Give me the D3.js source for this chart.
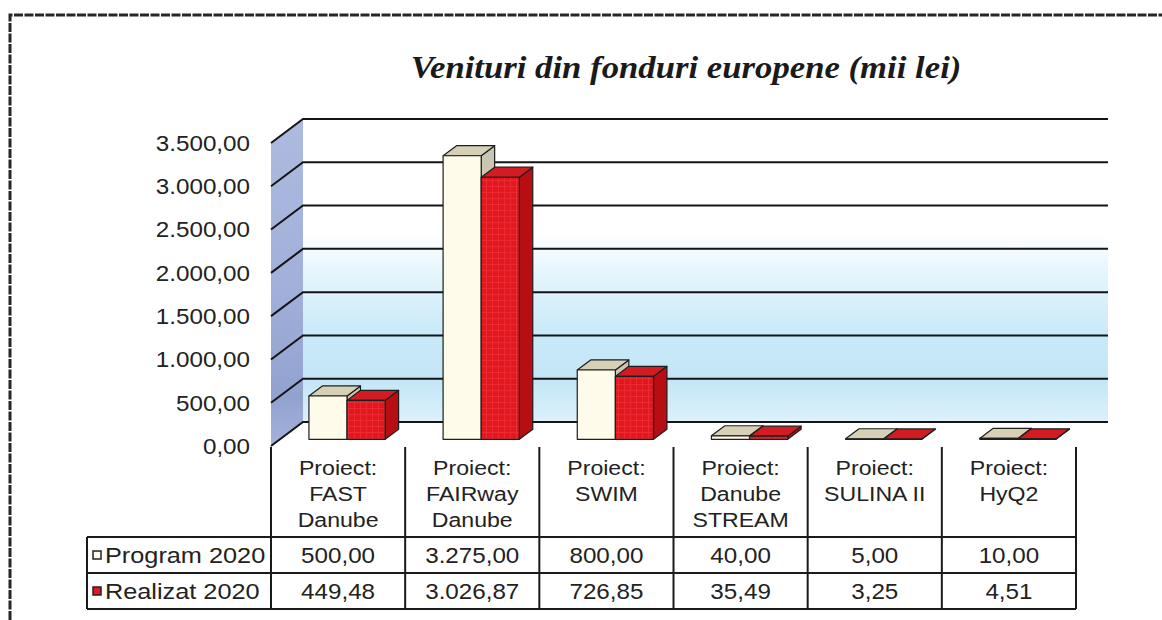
<!DOCTYPE html>
<html>
<head>
<meta charset="utf-8">
<script src="https://cdn.jsdelivr.net/npm/d3@7.9.0/dist/d3.min.js"></script>
<style>
  html, body { margin: 0; padding: 0; background: #fff; }
  svg { display: block; }
  .lbl { font-family: "Liberation Sans", Arial, sans-serif; fill: #222; }
</style>
</head>
<body>
<svg id="chart" width="1162" height="620"></svg>
<script>
// ---- data ----
const title = 'Venituri din fonduri europene (mii lei)';
const categories = [
  ['Proiect:', 'FAST', 'Danube'],
  ['Proiect:', 'FAIRway', 'Danube'],
  ['Proiect:', 'SWIM'],
  ['Proiect:', 'Danube', 'STREAM'],
  ['Proiect:', 'SULINA II'],
  ['Proiect:', 'HyQ2']
];
const seriesNames = ['Program 2020', 'Realizat 2020'];
const program2020 = [500.00, 3275.00, 800.00, 40.00, 5.00, 10.00];
const realizat2020 = [449.48, 3026.87, 726.85, 35.49, 3.25, 4.51];
const yTicks = [0, 500, 1000, 1500, 2000, 2500, 3000, 3500];

const seriesValues = [program2020, realizat2020];
const colors = [
  { front: '#fffbea', top: '#d6d1b6', side: '#c9c6b2' },
  { front: '#e6161e', top: '#d21c22', side: '#b70e14' }
];

// ---- layout ----
const svg = d3.select('#chart');
const W = 1162, H = 620;
const DX = 32, DY = 24;           // depth of the 3d box
const left = 271, right = 1076;
const SX = 1.1;                   // the scan is a bit wide, so text is stretched
const ro = d3.formatLocale({ decimal: ',', thousands: '.', grouping: [3], currency: ['', ''] });
const fmt = ro.format(',.2f');

const idx = categories.map((d, i) => i);
const x = d3.scaleBand().domain(idx).range([left, right]);
const xs = d3.scaleBand().domain([0, 1]).range([0, x.bandwidth()]).paddingOuter(0.76);
const y = d3.scaleLinear().domain([0, 3500]).range([446, 143]);

const P = (px, v, z) => [px + z * DX, y(v) - z * DY];
const poly = pts => 'M' + pts.map(p => p.join(',')).join('L') + 'Z';
const at = (px, py, sx = SX) => `translate(${px},${py}) scale(${sx},1)`;

// outer frame
svg.append('path')
  .attr('d', `M10,${H} L10,15 L${W},15`)
  .attr('fill', 'none').attr('stroke', '#262626').attr('stroke-width', 3)
  .attr('stroke-dasharray', '9,1.5');

// title
svg.append('text')
  .attr('transform', at(686, 78, 1.12))
  .attr('text-anchor', 'middle')
  .style('font-family', '"Liberation Serif", "Times New Roman", serif')
  .style('font-style', 'italic').style('font-weight', 'bold')
  .style('font-size', '31px').attr('fill', '#1a1a1a')
  .text(title);

// gradients
const defs = svg.append('defs');
const gBack = defs.append('linearGradient').attr('id', 'gBack')
  .attr('x1', 0).attr('y1', 0).attr('x2', 0).attr('y2', 1);
[[0, '#ffffff'], [0.38, '#ffffff'], [0.5, '#e6f6fd'], [0.72, '#c8e9f8'], [0.86, '#c3e6f6'], [1, '#dcf1fb']]
  .forEach(([o, c]) => gBack.append('stop').attr('offset', o).attr('stop-color', c));
const gSide = defs.append('linearGradient').attr('id', 'gSide')
  .attr('x1', 0).attr('y1', 0).attr('x2', 0).attr('y2', 1);
[[0, '#aebade'], [0.5, '#a2b0da'], [0.85, '#92a2cf'], [1, '#a5b3da']]
  .forEach(([o, c]) => gSide.append('stop').attr('offset', o).attr('stop-color', c));
const pat = defs.append('pattern').attr('id', 'redTex')
  .attr('patternUnits', 'userSpaceOnUse').attr('width', 6).attr('height', 6);
pat.append('rect').attr('width', 6).attr('height', 6).attr('fill', colors[1].front);
pat.append('path').attr('d', 'M0,0.5H6M0.5,0V6').attr('stroke', '#f25a5f').attr('stroke-width', 0.8).attr('opacity', 0.35);

// walls
const vMax = y.domain()[1];
svg.append('path')
  .attr('d', poly([P(left, vMax, 1), P(right, vMax, 1), P(right, 0, 1), P(left, 0, 1)]))
  .attr('fill', 'url(#gBack)');
svg.append('path')
  .attr('d', poly([P(left, vMax, 0), P(left, vMax, 1), P(left, 0, 1), P(left, 0, 0)]))
  .attr('fill', 'url(#gSide)');

// gridlines
const grid = svg.append('g').attr('fill', 'none').attr('stroke', '#141414').attr('stroke-width', 2);
yTicks.forEach(t => {
  grid.append('path').attr('d', 'M' + [P(left, t, 0), P(left, t, 1), P(right, t, 1)].map(p => p.join(',')).join('L'));
});

// y tick labels
svg.append('g').selectAll('text').data(yTicks).join('text')
  .attr('class', 'lbl')
  .attr('transform', d => at(250, y(d)))
  .attr('dy', '0.36em')
  .attr('text-anchor', 'end').style('font-size', '22px')
  .text(d => fmt(d));

// bars
const z0 = 0.28, z1 = 0.7;
const bars = svg.append('g').attr('stroke', '#1e1e1e').attr('stroke-width', 1.2).attr('stroke-linejoin', 'round');
idx.forEach(i => {
  seriesValues.forEach((vals, s) => {
    const v = vals[i];
    const x0 = x(i) + xs(s), x1 = x0 + xs.bandwidth();
    const c = colors[s];
    bars.append('path').attr('d', poly([P(x1, 0, z0), P(x1, v, z0), P(x1, v, z1), P(x1, 0, z1)])).attr('fill', c.side);
    bars.append('path').attr('d', poly([P(x0, v, z0), P(x1, v, z0), P(x1, v, z1), P(x0, v, z1)])).attr('fill', c.top);
    bars.append('path').attr('d', poly([P(x0, v, z0), P(x1, v, z0), P(x1, 0, z0), P(x0, 0, z0)]))
      .attr('fill', s === 1 ? 'url(#redTex)' : c.front);
  });
});

// data table
const tTop = 537, rowH = 36, tLeft = 87;
const tbl = svg.append('g').attr('stroke', '#1a1a1a').attr('stroke-width', 2).attr('fill', 'none');
idx.concat([categories.length]).forEach(i => {
  const xx = i < categories.length ? x(i) : right;
  tbl.append('line').attr('x1', xx).attr('x2', xx).attr('y1', 447).attr('y2', tTop + 2 * rowH);
});
[0, 1, 2].forEach(r => {
  tbl.append('line').attr('x1', tLeft).attr('x2', right).attr('y1', tTop + r * rowH).attr('y2', tTop + r * rowH);
});
tbl.append('line').attr('x1', tLeft).attr('x2', tLeft).attr('y1', tTop).attr('y2', tTop + 2 * rowH);

// category labels
const catG = svg.append('g');
categories.forEach((lines, i) => {
  lines.forEach((ln, k) => {
    catG.append('text').attr('class', 'lbl')
      .attr('transform', at(x(i) + x.bandwidth() / 2, 475 + k * 26))
      .attr('text-anchor', 'middle').style('font-size', '21px')
      .text(ln);
  });
});

// legend cells + values
seriesNames.forEach((name, s) => {
  const cy = tTop + s * rowH + rowH / 2;
  svg.append('rect').attr('x', 93).attr('y', cy - 4).attr('width', 8).attr('height', 8)
    .attr('fill', colors[s].front).attr('stroke', '#222').attr('stroke-width', 1.5);
  svg.append('text').attr('class', 'lbl')
    .attr('transform', at(105, cy, 1.15)).attr('dy', '0.36em')
    .style('font-size', '22px').text(name);
  svg.append('g').selectAll('text').data(seriesValues[s]).join('text')
    .attr('class', 'lbl')
    .attr('transform', (d, i) => at(x(i) + x.bandwidth() / 2, cy))
    .attr('dy', '0.36em')
    .attr('text-anchor', 'middle').style('font-size', '22px')
    .text(d => fmt(d));
});
</script>
</body>
</html>
